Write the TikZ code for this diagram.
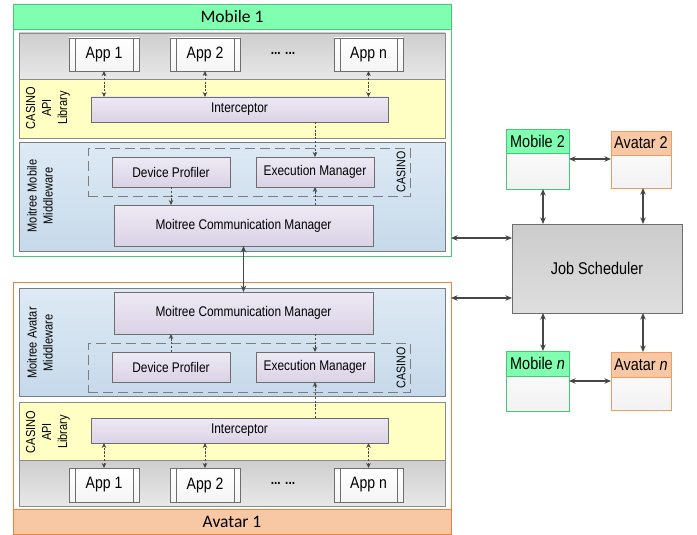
\documentclass[tikz,border=0pt]{standalone}
\usepackage{fontspec}
\setmainfont{Liberation Sans}[FakeStretch=0.85]
\newfontfamily\hdrfont{Carlito}
\usetikzlibrary{arrows.meta,calc}
\definecolor{mgreen}{RGB}{70,200,120}
\definecolor{mgfill}{RGB}{128,255,176}
\definecolor{aorange}{RGB}{237,130,60}
\definecolor{aofill}{RGB}{248,200,164}
\definecolor{gtop}{RGB}{206,206,206}
\definecolor{gbot}{RGB}{232,232,232}
\definecolor{yfill}{RGB}{255,255,196}
\definecolor{btop}{RGB}{222,234,245}
\definecolor{bbot}{RGB}{198,217,234}
\definecolor{ptop}{RGB}{238,234,244}
\definecolor{pbot}{RGB}{218,210,230}
\definecolor{jtop}{RGB}{204,204,204}
\definecolor{jbot}{RGB}{222,222,222}
\definecolor{edge}{RGB}{110,110,110}
\definecolor{arr}{RGB}{70,70,70}
\newcommand\mkbox[7]{\node[inner sep=0pt,outer sep=0pt,#6,minimum width={#4-#2},minimum height={#5-#3}] (#1) at ({(#2+#4)/2},{(#3+#5)/2}) {#7};}
\begin{document}
\begin{tikzpicture}[x=1pt,y=-1pt,
  panelg/.style={draw=edge!80,top color=gtop,bottom color=gbot,line width=0.6pt},
  panely/.style={draw=edge!80,fill=yfill,line width=0.6pt},
  panelb/.style={draw=edge!90,top color=btop,bottom color=bbot,line width=0.6pt},
  pbox/.style={draw=edge,top color=ptop,bottom color=pbot,line width=0.6pt,font=\fontsize{14}{16}\selectfont},
  appbox/.style={draw=edge,top color=white,bottom color=gray!8,line width=0.6pt,font=\fontsize{16.5}{19}\selectfont},
  casinobox/.style={draw=edge!90,dash pattern=on 10pt off 5pt,line width=0.9pt},
  vlab/.style={rotate=90,align=center,font=\fontsize{13}{16}\selectfont},
  dar/.style={draw=arr,dash pattern=on 2.2pt off 1.6pt,line width=0.75pt},
  dtip/.style={-{Stealth[length=5pt,width=4.5pt]}},
  dboth/.style={{Stealth[length=5pt,width=4.5pt]}-{Stealth[length=5pt,width=4.5pt]}},
  thk/.style={draw=arr,line width=1.2pt,{Stealth[length=6.5pt,width=5.5pt]}-{Stealth[length=6.5pt,width=5.5pt]}},
  hdr/.style={font=\hdrfont\fontsize{17.5}{20}\selectfont},
  sml/.style={font=\fontsize{17}{20}\selectfont}
]
\useasboundingbox (0,0) rectangle (697,535);
\fill[white] (0,0) rectangle (697,535);

% ---------------- Mobile 1 ----------------
\mkbox{m1}{13}{4}{451}{256}{draw=mgreen,fill=white,line width=0.8pt}{}
\mkbox{m1h}{13}{4}{451}{29}{draw=mgreen,fill=mgfill,line width=0.8pt,hdr}{Mobile 1}
\mkbox{m1g}{19}{33}{445}{79}{panelg}{}
\mkbox{m1y}{19}{79}{445}{138}{panely}{}
\mkbox{m1b}{19}{142}{445}{251}{panelb}{}
\mkbox{m1app1}{69}{38}{139}{71}{appbox}{App 1}
\mkbox{m1app2}{170}{38}{240}{71}{appbox}{App 2}
\mkbox{m1appn}{334}{38}{403}{71}{appbox}{App n}
\node[font=\bfseries\fontsize{14}{16}\selectfont] (m1dots) at (283,53) {... ...};
\mkbox{m1int}{91}{97}{388}{122}{pbox}{Interceptor}
\node[vlab] (m1lib) at (48,108) {CASINO\\API\\Library};
\mkbox{m1cas}{88}{148}{410}{196}{casinobox}{}
\node[vlab,font=\fontsize{12.5}{15}\selectfont] (m1caslab) at (401,172) {CASINO};
\mkbox{m1dp}{112}{157}{230}{187}{pbox}{Device Profiler}
\mkbox{m1em}{256}{157}{374}{187}{pbox}{Execution Manager}
\mkbox{m1mcm}{114}{205}{373}{246}{pbox}{Moitree Communication Manager}
\node[vlab] (m1mw) at (40,196) {Moitree Mobile\\Middleware};

% ---------------- Avatar 1 ----------------
\mkbox{a1}{13}{282}{451}{534}{draw=aorange,fill=white,line width=0.8pt}{}
\mkbox{a1h}{13}{509}{451}{534}{draw=aorange,fill=aofill,line width=0.8pt,hdr}{Avatar 1}
\mkbox{a1b}{19}{288}{445}{396}{panelb}{}
\mkbox{a1y}{19}{402}{445}{460}{panely}{}
\mkbox{a1g}{19}{460}{445}{506}{panelg}{}
\mkbox{a1mcm}{114}{292}{373}{334}{pbox}{Moitree Communication Manager}
\mkbox{a1cas}{88}{343}{410}{392}{casinobox}{}
\node[vlab,font=\fontsize{12.5}{15}\selectfont] (a1caslab) at (401,368) {CASINO};
\mkbox{a1dp}{112}{352}{230}{382}{pbox}{Device Profiler}
\mkbox{a1em}{256}{352}{374}{382}{pbox}{Execution Manager}
\node[vlab] (a1mw) at (40,343) {Moitree Avatar\\Middleware};
\mkbox{a1int}{91}{418}{388}{443}{pbox}{Interceptor}
\node[vlab] (a1lib) at (48,432) {CASINO\\API\\Library};
\mkbox{a1app1}{69}{468}{139}{502}{appbox}{App 1}
\mkbox{a1app2}{170}{468}{240}{502}{appbox}{App 2}
\mkbox{a1appn}{334}{468}{403}{502}{appbox}{App n}
\node[font=\bfseries\fontsize{14}{16}\selectfont] (a1dots) at (283,483) {... ...};

% side bars of app boxes
\foreach \a in {m1app1,m1app2,m1appn,a1app1,a1app2,a1appn}{
  \draw[edge,line width=0.6pt] ([xshift=6pt]\a.north west) -- ([xshift=6pt]\a.south west);
  \draw[edge,line width=0.6pt] ([xshift=-6pt]\a.north east) -- ([xshift=-6pt]\a.south east);
}

% dashed arrows, Mobile 1
\foreach \a in {m1app1,m1app2,m1appn}{
  \draw[dar,dboth] (\a.south) -- (\a.south |- m1int.north);
}
\draw[dar,dtip] (m1em.north |- m1int.south) -- (m1em.north);
\draw[dar,dtip] (m1dp.south) -- (m1dp.south |- m1mcm.north);
\draw[dar,dtip] (m1em.south |- m1mcm.north) -- (m1em.south);

% dashed arrows, Avatar 1
\foreach \a in {a1app1,a1app2,a1appn}{
  \draw[dar,dboth] (\a.north) -- (\a.north |- a1int.south);
}
\draw[dar,dtip] (a1em.south |- a1int.north) -- (a1em.south);
\draw[dar,dtip] (a1dp.north) -- (a1dp.north |- a1mcm.south);
\draw[dar,dtip] (a1em.north |- a1mcm.south) -- (a1em.north);

% MCM link
\draw[thk,line width=1.7pt] (m1mcm.south) -- (a1mcm.north);

% ---------------- right side ----------------
\mkbox{m2}{506}{129}{569}{189}{draw=mgreen,top color=white,bottom color=gray!10,line width=0.8pt}{}
\mkbox{m2h}{506}{129}{569}{153}{draw=mgreen,fill=mgfill,line width=0.8pt,sml}{Mobile 2}
\mkbox{a2}{611}{131}{671}{188}{draw=aorange!80,top color=white,bottom color=gray!10,line width=0.8pt}{}
\mkbox{a2h}{611}{131}{671}{155}{draw=aorange!80,fill=aofill,line width=0.8pt,sml}{Avatar 2}
\mkbox{js}{512}{224}{682}{313}{draw=edge,top color=jtop,bottom color=jbot,line width=0.8pt,sml}{Job Scheduler}
\mkbox{mn}{506}{351}{569}{411}{draw=mgreen,top color=white,bottom color=gray!10,line width=0.8pt}{}
\mkbox{mnh}{506}{351}{569}{376}{draw=mgreen,fill=mgfill,line width=0.8pt,sml}{Mobile \textit{n}}
\mkbox{an}{611}{352}{671}{410}{draw=aorange!80,top color=white,bottom color=gray!10,line width=0.8pt}{}
\mkbox{anh}{611}{352}{671}{377}{draw=aorange!80,fill=aofill,line width=0.8pt,sml}{Avatar \textit{n}}

\coordinate (c1) at (543,0);
\coordinate (c2) at (643,0);
\coordinate (h1) at (0,159);
\coordinate (h2) at (0,381);
\coordinate (r1) at (0,238);
\coordinate (r2) at (0,298);

\draw[thk] (m2.south -| c1) -- (js.north -| c1);
\draw[thk] (a2.south -| c2) -- (js.north -| c2);
\draw[thk] (mn.north -| c1) -- (js.south -| c1);
\draw[thk] (an.north -| c2) -- (js.south -| c2);
\draw[thk] (m2.east |- h1) -- (a2.west |- h1);
\draw[thk] (mn.east |- h2) -- (an.west |- h2);
\draw[thk] (m1.east |- r1) -- (js.west |- r1);
\draw[thk] (a1.east |- r2) -- (js.west |- r2);
\end{tikzpicture}
\end{document}
